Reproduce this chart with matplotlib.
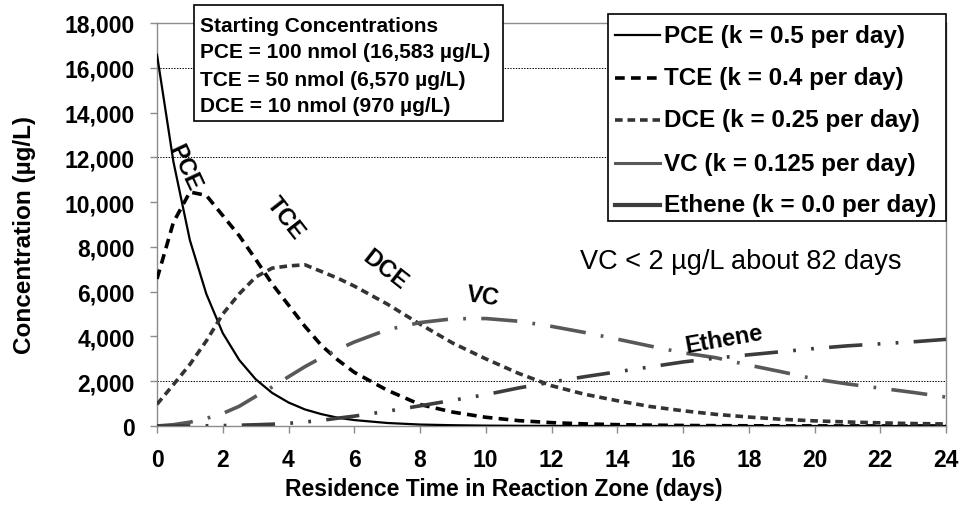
import matplotlib
matplotlib.use('Agg')
import matplotlib.pyplot as plt
from matplotlib.lines import Line2D
from matplotlib.patches import Rectangle
from matplotlib.ticker import FuncFormatter, MultipleLocator

plt.rcParams['font.family'] = ['Liberation Sans', 'DejaVu Sans']
plt.rcParams['lines.scale_dashes'] = False

# ---- data ----
days = [0, 0.5, 1, 1.5, 2, 2.5, 3, 3.5, 4, 4.5, 5, 5.5, 6,
        7, 8, 9, 10, 11, 12, 13, 14, 15, 16, 17, 18, 19, 20, 21, 22, 23, 24]
pce = [16583, 11800, 8300, 5900, 4150, 2950, 2090, 1480, 1050, 740, 530, 370, 265,
       135, 65, 35, 17, 8, 4, 2, 1, 0, 0, 0, 0, 0, 0, 0, 0, 0, 0]
tce = [6570, 9100, 10450, 10300, 9400, 8500, 7450, 6350, 5400, 4450, 3600, 2950, 2400,
       1600, 960, 620, 390, 240, 150, 95, 60, 38, 24, 15, 10, 6, 4, 3, 2, 1, 1]
dce = [970, 1850, 2750, 3800, 5000, 5900, 6650, 7050, 7150, 7200, 6900, 6600, 6250,
       5450, 4550, 3700, 3000, 2350, 1800, 1420, 1130, 870, 680, 520, 400, 300, 230, 180, 140, 110, 90]
vc = [0, 60, 170, 340, 560, 880, 1320, 1740, 2200, 2650, 3050, 3420, 3750,
      4300, 4620, 4790, 4800, 4680, 4450, 4180, 3880, 3570, 3270, 3050, 2720, 2420, 2100, 1880, 1690, 1500, 1290]
ethene = [0, 0, 5, 10, 20, 35, 55, 80, 120, 180, 250, 350, 440,
          660, 900, 1150, 1400, 1700, 1960, 2200, 2420, 2640, 2860, 3030, 3180, 3320, 3460, 3580, 3670, 3760, 3870]

legend_labels = ['PCE (k = 0.5 per day)', 'TCE (k = 0.4 per day)', 'DCE (k = 0.25 per day)',
                 'VC (k = 0.125 per day)', 'Ethene (k = 0.0 per day)']
start_text = ['Starting Concentrations', 'PCE = 100 nmol (16,583 \u00b5g/L)',
              'TCE = 50 nmol (6,570 \u00b5g/L)', 'DCE = 10 nmol (970 \u00b5g/L)']
note_text = 'VC < 2 \u00b5g/L about 82 days'

W, H = 964, 506
fig = plt.figure(figsize=(W / 100, H / 100), dpi=100)
L, R, T, B = 157, 946, 24, 427
ax = fig.add_axes([L / W, 1 - B / H, (R - L) / W, (B - T) / H])
ax.set_xlim(0, 24)
ax.set_ylim(0, 18000)


def fx(px):
    return px / W


def fy(py):
    return 1 - py / H


# gridlines (only those visible in the reference)
for g in [2000, 12000, 16000]:
    ax.axhline(g, color='black', lw=0.7, ls=(0, (1, 1)), zorder=0)

styles = [
    dict(color='black', lw=1.6, solid_joinstyle='round'),
    dict(color='black', lw=2.6, dashes=(7, 4.5)),
    dict(color='#333333', lw=2.6, dashes=(5.5, 3.5)),
    dict(color='#585858', lw=2.6, dashes=(26, 11, 2, 11)),
    dict(color='#3c3c3c', lw=2.6, dashes=(24, 11, 2, 11, 2, 11)),
]
for ys, st in zip([pce, tce, dce, vc, ethene], styles):
    ax.plot(days, ys, zorder=3, **st)

for s in ax.spines.values():
    s.set_color('#8c8c8c')
    s.set_linewidth(1)

ax.xaxis.set_major_locator(MultipleLocator(2))
ax.yaxis.set_major_locator(MultipleLocator(2000))
ax.yaxis.set_major_formatter(FuncFormatter(lambda v, p: f'{v:,.0f}'))
ax.tick_params(axis='x', direction='out', length=5, width=1, color='#8c8c8c', pad=11,
               labelsize=16.5)
ax.tick_params(axis='y', direction='out', length=5, width=1, color='#8c8c8c', pad=11,
               labelsize=16.5)
for lab in ax.get_xticklabels() + ax.get_yticklabels():
    lab.set_fontweight('bold')

ax.set_ylabel('Concentration (\u00b5g/L)', fontsize=17.5, fontweight='bold')
ax.yaxis.set_label_coords((25 - L) / (R - L), (B - 235) / (B - T))
ax.set_xlabel('Residence Time in Reaction Zone (days)', fontsize=16.5, fontweight='bold')
ax.xaxis.set_label_coords(0.44, (B - 490) / (B - T))
ax.xaxis.label.set_va('center')
ax.yaxis.label.set_va('center')

# curve labels
kw = dict(fontsize=17, fontweight='bold', ha='center', va='center', zorder=4)
ax.text(0.85, 11560, 'PCE', rotation=-65, **kw)
ax.text(3.9, 9330, 'TCE', rotation=-52, **kw)
ax.text(6.94, 7010, 'DCE', rotation=-38, **kw)
ax.text(9.92, 5800, 'VC', rotation=-8, **kw)
ax.text(17.25, 3880, 'Ethene', rotation=10, **kw)

# legend (drawn by hand to match the reference box)
fig.patches.append(Rectangle((fx(608), fy(222)), (946 - 608) / W, (222 - 15) / H,
                             transform=fig.transFigure, fc='white', ec='black', lw=1.2,
                             zorder=5))
leg_styles = [
    dict(color='black', lw=1.6),
    dict(color='black', lw=2.6, dashes=(7, 4.5)),
    dict(color='#333333', lw=2.6, dashes=(5.5, 3.5)),
    dict(color='#585858', lw=2.2),
    dict(color='#3c3c3c', lw=3.0),
]
rows = [36, 79, 121, 164, 206]
for r, st, lab in zip(rows, leg_styles, legend_labels):
    fig.add_artist(Line2D([fx(615), fx(660)], [fy(r), fy(r)], transform=fig.transFigure,
                          zorder=6, **st))
    fig.text(fx(664), fy(r), lab, fontsize=17.5, fontweight='bold', ha='left', va='center',
             zorder=6)

# starting concentrations box
fig.patches.append(Rectangle((fx(194), fy(122)), (503 - 194) / W, (122 - 6) / H,
                             transform=fig.transFigure, fc='white', ec='black', lw=1.2,
                             zorder=5))
for r, line in zip([26, 53, 80, 107], start_text):
    fig.text(fx(200), fy(r), line, fontsize=15, fontweight='bold',
             ha='left', va='center', zorder=6)

fig.text(fx(580), fy(262), note_text, fontsize=19.5, ha='left', va='center')

fig.savefig('out.png', dpi=100)
